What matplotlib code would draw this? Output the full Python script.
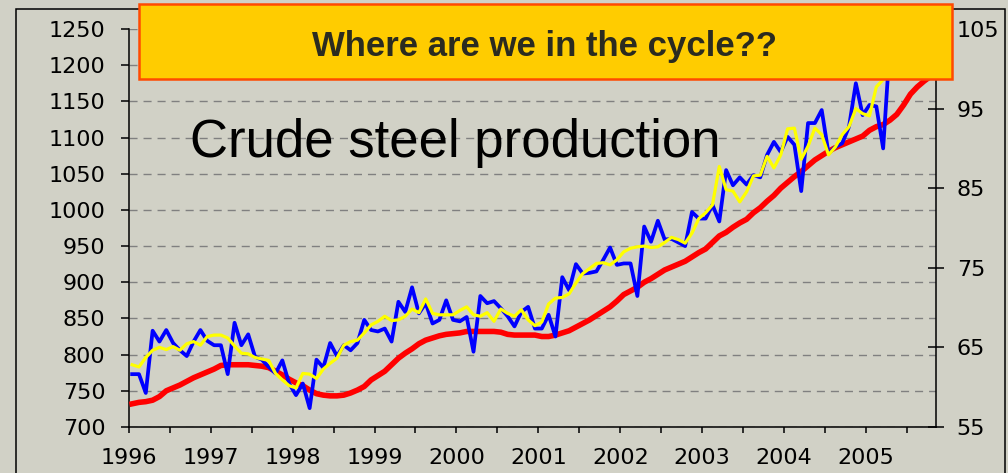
import matplotlib
matplotlib.use("Agg")
import matplotlib.pyplot as plt
from matplotlib.patches import Rectangle
from matplotlib.lines import Line2D
import numpy as np

# monthly values from Jan 1996 (left scale)
production = [773, 773, 747, 833, 818, 834, 816, 806, 798, 818, 834, 819,
              813, 813, 773, 844, 813, 828, 797, 793, 783, 774, 792, 760,
              744, 760, 726, 793, 782, 816, 798, 813, 806, 816, 848, 834,
              832, 836, 818, 873, 859, 893, 857, 871, 843, 848, 875, 848,
              846, 852, 804, 881, 871, 874, 864, 853, 839, 859, 866, 836,
              836, 855, 825, 907, 889, 925, 912, 913, 915, 931, 948, 924,
              926, 926, 881, 977, 956, 985, 959, 960, 955, 950, 997, 988,
              988, 1007, 984, 1055, 1034, 1045, 1035, 1048, 1045, 1076, 1094, 1080,
              1101, 1090, 1026, 1120, 1120, 1138, 1078, 1087, 1092, 1115, 1175, 1131,
              1145, 1143, 1085, 1230]
indicator = [786, 783, 796, 806, 810, 807, 811, 806, 815, 818, 813, 825,
             827, 827, 823, 812, 802, 801, 796, 794, 792, 774, 765, 757,
             754, 774, 773, 767, 780, 788, 795, 813, 818, 820, 830, 841,
             846, 853, 847, 848, 853, 863, 858, 877, 857, 855, 855, 855,
             861, 866, 855, 853, 858, 846, 863, 857, 853, 862, 848, 840,
             845, 870, 878, 879, 884, 899, 912, 919, 926, 927, 924, 931,
             942, 947, 949, 950, 948, 949, 955, 962, 959, 954, 968, 988,
             996, 1007, 1060, 1028, 1026, 1011, 1025, 1047, 1048, 1074, 1058, 1076,
             1112, 1113, 1070, 1088, 1113, 1104, 1076, 1087, 1104, 1115, 1140, 1133,
             1130, 1170, 1180, 1192]
trend = [732, 734, 735, 737, 742, 750, 754, 758, 763, 768, 772, 776,
         780, 785, 786, 786, 786, 786, 785, 784, 782, 777, 772, 766,
         761, 757, 751, 746, 744, 743, 743, 744, 747, 751, 756, 765,
         771, 777, 786, 795, 802, 808, 815, 820, 823, 826, 828, 829,
         830, 832, 832, 832, 832, 832, 831, 828, 827, 827, 827, 827,
         825, 825, 827, 830, 833, 838, 843, 848, 854, 860, 866, 874,
         883, 888, 893, 900, 905, 911, 917, 921, 925, 929, 935, 941,
         946, 955, 964, 969, 976, 982, 987, 996, 1003, 1012, 1020, 1030,
         1038, 1046, 1053, 1061, 1069, 1075, 1081, 1086, 1090, 1094, 1098, 1102,
         1110, 1115, 1118, 1124, 1132, 1145, 1160, 1170, 1178, 1185]

years = list(range(1996, 2006))
left_ticks = list(range(700, 1251, 50))
right_ticks = list(range(55, 106, 10))


def month_pos(values):
    # centre of each month, in years
    return 1996 + (np.arange(len(values)) + 0.5) / 12


bg = "#d1d1c6"
fig = plt.figure(figsize=(10.08, 4.73), dpi=100, facecolor=bg)
ax = fig.add_axes([0.1277, 0.0973, 0.8006, 0.8414])
ax.set_facecolor(bg)

ax.plot(month_pos(trend), trend, color="#ff0000", lw=4.0, zorder=3)
ax.plot(month_pos(production), production, color="#0000ff", lw=2.7, zorder=4)
ax.plot(month_pos(indicator), indicator, color="#ffff00", lw=2.3, zorder=5)

ax.set_xlim(1996, 1996 + 118.2 / 12)
ax.set_ylim(700, 1250)
ax.set_yticks(left_ticks)
ax.set_xticks(years)
ax.set_xticks([y + 0.5 for y in years], minor=True)
ax.grid(axis="y", color="#808080", lw=1.0, linestyle=(0, (5.8, 4.3)))
ax.set_axisbelow(True)

for s in ["top", "right"]:
    ax.spines[s].set_visible(False)
for s in ["left", "bottom"]:
    ax.spines[s].set_linewidth(1.1)

ax.tick_params(axis="y", direction="out", length=5.8, width=1.1, pad=11,
               labelsize=16, colors="black")
ax.tick_params(axis="x", which="both", direction="out", length=4.3, width=1.1)
ax.tick_params(axis="x", which="major", pad=11, labelsize=16)

ax2 = ax.twinx()
ax2.set_ylim(55, 105)
ax2.set_yticks(right_ticks)
for s in ["top", "left", "bottom"]:
    ax2.spines[s].set_visible(False)
ax2.spines["right"].set_linewidth(1.1)
ax2.tick_params(axis="y", direction="inout", length=12.2, width=1.1, pad=9,
                labelsize=16)

for a in (ax, ax2):
    for lab in a.get_xticklabels() + a.get_yticklabels():
        lab.set_family("DejaVu Sans")

# outer frame of the chart area
fig.add_artist(Rectangle((16 / 1008, -0.05), (1005 - 16) / 1008, (473 - 9.3) / 473 + 0.05,
                         transform=fig.transFigure, facecolor="none",
                         edgecolor="black", lw=1.1, zorder=1))
fig.add_artist(Line2D([0.9283, 0.9283], [0.938, (473 - 9.3) / 473],
                      transform=fig.transFigure, color="black", lw=1.1))

fig.text(0.1885, 0.6687, "Crude steel production", fontsize=38,
         family="Liberation Sans", color="black", ha="left", va="baseline", zorder=6)

# title banner
fig.add_artist(Rectangle((0.1379, 0.833), 0.8065, 0.1586, transform=fig.transFigure,
                         facecolor="#ffcc00", edgecolor="#ff4a00", lw=1.8, zorder=10))
fig.text(0.540, 0.8806, "Where are we in the cycle??", ha="center", va="baseline",
         fontsize=25, fontweight="bold", family="Liberation Sans",
         color="#2b2b20", zorder=11)

fig.savefig("out.png", dpi=100, facecolor=bg)
